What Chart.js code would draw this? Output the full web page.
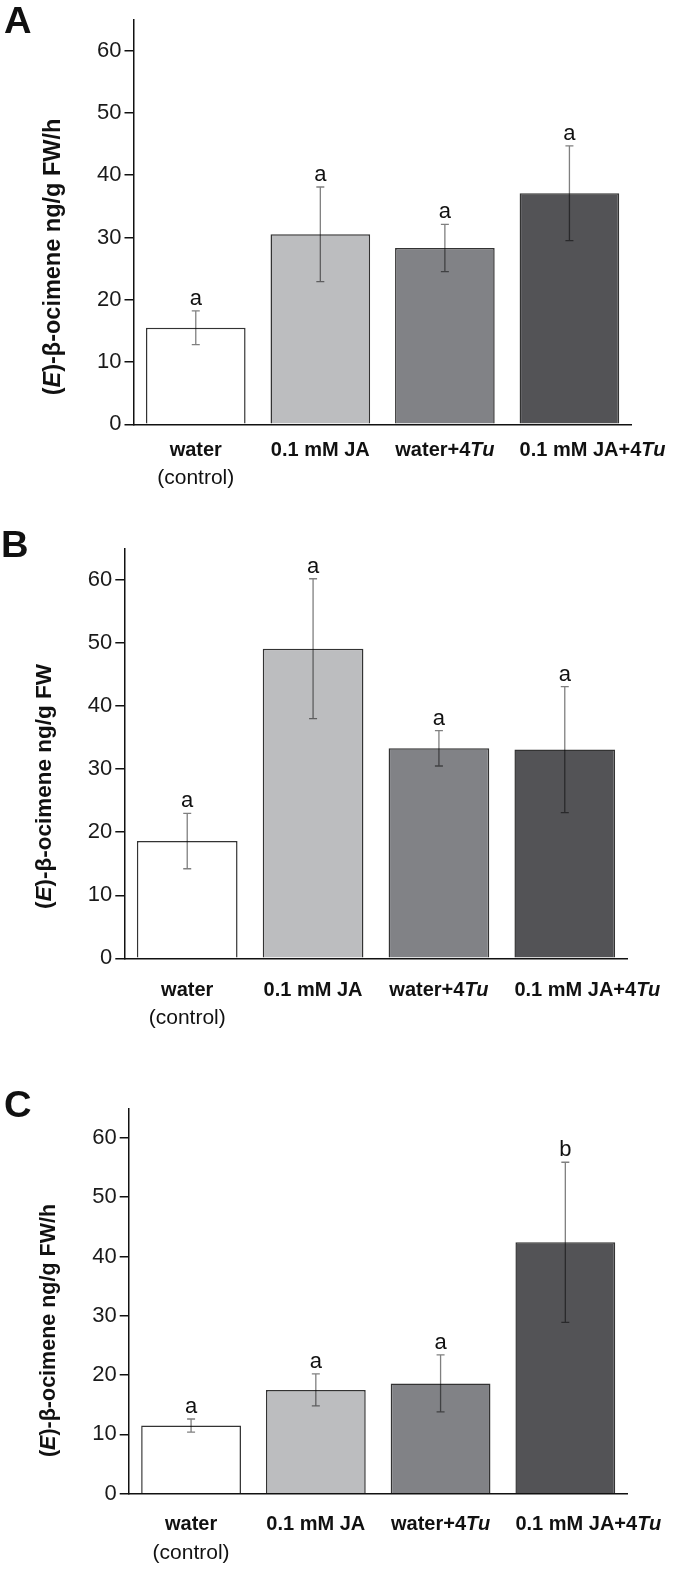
<!DOCTYPE html>
<html>
<head>
<meta charset="utf-8">
<title>(E)-β-ocimene</title>
<script src="https://cdn.jsdelivr.net/npm/chart.js@4"></script>
<style>
    html, body {
        margin: 0;
        padding: 0;
        background: #ffffff;
    }
    #page {
        position: relative;
        width: 674px;
        height: 1589px;
    }
    canvas {
        position: absolute;
        left: 0;
    }
</style>
</head>
<body>
<div id="page">
    <canvas id="panel-a" width="674" height="500" style="top:0px"></canvas>
    <canvas id="panel-b" width="674" height="540" style="top:500px"></canvas>
    <canvas id="panel-c" width="674" height="549" style="top:1040px"></canvas>
</div>
<script>
const categories = ['water\n(control)', '0.1 mM JA', 'water+4Tu', '0.1 mM JA+4Tu'];
const yTicks = [0, 10, 20, 30, 40, 50, 60];
const yMax = 65;

const meansA = [15.5, 30.5, 28.3, 37.1];
const errorsA = [2.7, 7.6, 3.8, 7.6];
const lettersA = ['a', 'a', 'a', 'a'];

const meansB = [18.6, 49.1, 33.3, 33.1];
const errorsB = [4.4, 11.1, 2.8, 10.0];
const lettersB = ['a', 'a', 'a', 'a'];

const meansC = [11.5, 17.5, 18.6, 42.4];
const errorsC = [1.1, 2.7, 4.8, 13.5];
const lettersC = ['a', 'a', 'a', 'b'];

const titleA = '(E)-β-ocimene ng/g FW/h';
const titleB = '(E)-β-ocimene ng/g FW';
const titleC = '(E)-β-ocimene ng/g FW/h';

const barColors = ['#ffffff', '#bcbdbf', '#818286', '#535356'];
const FONT = '"Liberation Sans", Arial, Helvetica, sans-serif';

// draw a run of text pieces, each with its own font
function drawRich(ctx, pieces, x, y, align) {
    let total = 0;
    pieces.forEach((p) => {
        ctx.font = p.font;
        p.w = ctx.measureText(p.text).width;
        total += p.w;
    });
    let cx = x;
    if (align === 'center') cx = x - total / 2;
    else if (align === 'right') cx = x - total;
    ctx.textAlign = 'left';
    pieces.forEach((p) => {
        ctx.font = p.font;
        ctx.fillText(p.text, cx, y);
        cx += p.w;
    });
    return total;
}

function italicPieces(text, size, italicPart) {
    const bold = `bold ${size}px ${FONT}`;
    const boldItalic = `italic bold ${size}px ${FONT}`;
    return text
        .split(new RegExp(`(${italicPart})`))
        .filter((t) => t.length)
        .map((t) => ({text: t, font: t === italicPart ? boldItalic : bold}));
}

const annotationPlugin = {
    id: 'annotations',
    afterDatasetsDraw(chart) {
        const cfg = chart.options.plugins.annotations;
        const ctx = chart.ctx;
        const y = chart.scales.y;
        const meta = chart.getDatasetMeta(0);
        ctx.save();
        meta.data.forEach((bar, i) => {
            const m = cfg.means[i];
            const e = cfg.errors[i];
            const top = y.getPixelForValue(m + e);
            const bot = y.getPixelForValue(m - e);
            ctx.strokeStyle = 'rgba(0,0,0,0.5)';
            ctx.lineWidth = 1.3;
            ctx.beginPath();
            ctx.moveTo(bar.x, top);
            ctx.lineTo(bar.x, bot);
            ctx.moveTo(bar.x - 4, top);
            ctx.lineTo(bar.x + 4, top);
            ctx.moveTo(bar.x - 4, bot);
            ctx.lineTo(bar.x + 4, bot);
            ctx.stroke();

            ctx.fillStyle = '#111';
            ctx.font = `22px ${FONT}`;
            ctx.textAlign = 'center';
            ctx.textBaseline = 'alphabetic';
            ctx.fillText(cfg.letters[i], bar.x, top - 6);
        });
        ctx.restore();
    },
    afterDraw(chart) {
        const cfg = chart.options.plugins.annotations;
        const ctx = chart.ctx;
        const area = chart.chartArea;
        const meta = chart.getDatasetMeta(0);
        ctx.save();
        ctx.fillStyle = '#111';
        ctx.textBaseline = 'alphabetic';

        // category labels
        meta.data.forEach((bar, i) => {
            const lines = categories[i].split('\n');
            const pieces = italicPieces(lines[0], 20, 'Tu');
            let w = 0;
            pieces.forEach((p) => {
                ctx.font = p.font;
                w += ctx.measureText(p.text).width;
            });
            const left = Math.max(bar.x - w / 2, bar.x - bar.width / 2);
            drawRich(ctx, pieces, left, area.bottom + cfg.labelOffsets[0], 'left');
            if (lines[1]) {
                ctx.font = `21px ${FONT}`;
                ctx.textAlign = 'center';
                ctx.fillText(lines[1], bar.x, area.bottom + cfg.labelOffsets[1]);
            }
        });

        // y axis title
        ctx.save();
        ctx.translate(cfg.titleX, cfg.titleY);
        ctx.rotate(-Math.PI / 2);
        drawRich(ctx, italicPieces(cfg.title.replace('(E)', '(\u0000E\u0000)'), cfg.titleSize, 'E')
            .map((p) => ({text: p.text.replace(/\u0000/g, ''), font: p.font}))
            .filter((p) => p.text.length), 0, 0, 'center');
        ctx.restore();

        // panel letter
        ctx.save();
        ctx.translate(cfg.panelX, cfg.panelY);
        ctx.scale(1.06, 1);
        ctx.font = `bold 36px ${FONT}`;
        ctx.textAlign = 'left';
        ctx.fillText(cfg.panel, 0, 0);
        ctx.restore();
        ctx.restore();
    },
};

function buildPanel(id, opts) {
    const canvas = document.getElementById(id);
    const H = canvas.height;
    return new Chart(canvas.getContext('2d'), {
        type: 'bar',
        data: {
            labels: categories,
            datasets: [
                {
                    data: opts.means,
                    backgroundColor: barColors,
                    borderColor: '#333333',
                    borderWidth: 1.5,
                    barPercentage: 0.8,
                    categoryPercentage: 1.0,
                },
            ],
        },
        plugins: [annotationPlugin],
        options: {
            responsive: false,
            animation: false,
            devicePixelRatio: 1,
            layout: {
                padding: {
                    top: opts.top,
                    left: 0,
                    right: 674 - opts.right,
                    bottom: 0,
                },
            },
            plugins: {
                legend: {display: false},
                tooltip: {enabled: false},
                annotations: {
                    means: opts.means,
                    errors: opts.errors,
                    letters: opts.letters,
                    title: opts.title,
                    titleSize: opts.titleSize,
                    titleX: opts.titleX,
                    titleY: opts.titleY,
                    labelOffsets: opts.labelOffsets,
                    panel: opts.panel,
                    panelX: opts.panelX,
                    panelY: opts.panelY,
                },
            },
            scales: {
                x: {
                    ticks: {display: false},
                    grid: {display: true, drawOnChartArea: false, drawTicks: false},
                    border: {display: true, color: '#111', width: 1.5},
                    afterFit(scale) {
                        scale.height = H - opts.bottom;
                    },
                },
                y: {
                    min: 0,
                    max: yMax,
                    afterBuildTicks(scale) {
                        scale.ticks = yTicks.map((v) => ({value: v}));
                    },
                    ticks: {
                        color: '#1a1a1a',
                        font: {family: FONT, size: 22},
                        padding: 3,
                    },
                    grid: {
                        drawOnChartArea: false,
                        drawTicks: true,
                        tickLength: 9,
                        color: '#111',
                        lineWidth: 1.5,
                    },
                    border: {display: true, color: '#111', width: 1.5},
                    afterFit(scale) {
                        scale.width = opts.left;
                    },
                },
            },
        },
    });
}

function init() {
    buildPanel('panel-a', {
        means: meansA, errors: errorsA, letters: lettersA,
        title: titleA, titleSize: 23.5, titleX: 60, titleY: 257,
        left: 133.5, right: 631.7, top: 19.5, bottom: 424.3,
        labelOffsets: [32, 60], panel: 'A', panelX: 4, panelY: 33,
    });
    buildPanel('panel-b', {
        means: meansB, errors: errorsB, letters: lettersB,
        title: titleB, titleSize: 22.5, titleX: 51, titleY: 286.5,
        left: 124.3, right: 627.7, top: 48.5, bottom: 458.3,
        labelOffsets: [38, 66], panel: 'B', panelX: 1, panelY: 57,
    });
    buildPanel('panel-c', {
        means: meansC, errors: errorsC, letters: lettersC,
        title: titleC, titleSize: 21.5, titleX: 55, titleY: 290.5,
        left: 128.7, right: 627.7, top: 68.3, bottom: 453.7,
        labelOffsets: [36, 65], panel: 'C', panelX: 4, panelY: 77,
    });
}

document.addEventListener('DOMContentLoaded', init);
</script>
</body>
</html>
